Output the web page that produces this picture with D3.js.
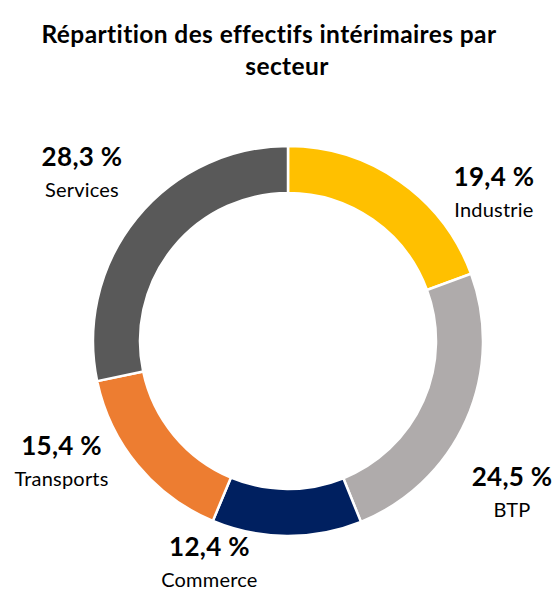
<!DOCTYPE html>
<html>
<head>
<meta charset="utf-8">
<script src="https://cdn.jsdelivr.net/npm/d3@7"></script>
<style>
    body { margin: 0; background: #fff; }
    text { font-family: Lato, "Open Sans", sans-serif; fill: #000; font-variant-ligatures: none; }
    .title { font-weight: bold; font-size: 24.5px; letter-spacing: 0.4px; }
    .pct { font-weight: bold; font-size: 26px; letter-spacing: 0.3px; }
    .name { font-size: 20px; letter-spacing: 0.2px; }
</style>
</head>
<body>
<div id="chart"></div>
<script>
// data
const sectors = ["Industrie", "BTP", "Commerce", "Transports", "Services"];
const shares = [19.4, 24.5, 12.4, 15.4, 28.3];
const colors = ["#FFC000", "#AFABAB", "#002060", "#ED7D31", "#595959"];

// nudges for the labels, relative to the label ring centroid
const labelNudge = [[60, 62], [-9, 50], [-77, -32], [-30, -41], [-8, -6]];

class Donut {

    constructor(parentElement) {
        this.parentElement = parentElement;
        this.initVis();
    }

    initVis() {
        let vis = this;

        vis.width = 560;
        vis.height = 589;
        vis.center = {x: 288, y: 341};
        vis.outer = 195;
        vis.inner = 148;

        vis.svg = d3.select(vis.parentElement)
            .append("svg")
            .attr("width", vis.width)
            .attr("height", vis.height);

        // title, two lines like the original
        vis.svg.append("text")
            .attr("class", "title")
            .attr("x", 269)
            .attr("y", 43)
            .attr("text-anchor", "middle")
            .text("Répartition des effectifs intérimaires par");
        vis.svg.append("text")
            .attr("class", "title")
            .attr("x", 287)
            .attr("y", 75)
            .attr("text-anchor", "middle")
            .text("secteur");

        vis.g = vis.svg.append("g")
            .attr("transform", "translate(" + vis.center.x + "," + vis.center.y + ")");

        vis.updateVis();
    }

    updateVis() {
        let vis = this;

        vis.data = sectors.map((s, i) => ({name: s, value: shares[i], color: colors[i], i: i}));

        vis.pie = d3.pie()
            .value(d => d.value)
            .sort(null);

        vis.arc = d3.arc()
            .innerRadius(vis.inner)
            .outerRadius(vis.outer);

        vis.labelArc = d3.arc()
            .innerRadius(255)
            .outerRadius(255);

        let arcs = vis.pie(vis.data);

        vis.g.selectAll("path.slice")
            .data(arcs)
            .enter()
            .append("path")
            .attr("class", "slice")
            .attr("d", vis.arc)
            .attr("fill", d => d.data.color)
            .attr("stroke", "#fff")
            .attr("stroke-width", 2.5);

        let labels = vis.g.selectAll("g.label")
            .data(arcs)
            .enter()
            .append("g")
            .attr("class", "label")
            .attr("transform", d => {
                let c = vis.labelArc.centroid(d);
                let n = labelNudge[d.data.i];
                return "translate(" + (c[0] + n[0]) + "," + (c[1] + n[1]) + ")";
            });

        labels.append("text")
            .attr("class", "pct")
            .attr("text-anchor", "middle")
            .attr("y", -8)
            .text(d => d3.format(".1f")(d.data.value).replace(".", ",") + " %");

        labels.append("text")
            .attr("class", "name")
            .attr("text-anchor", "middle")
            .attr("y", 23)
            .text(d => d.data.name);
    }
}

new Donut("#chart");
</script>
</body>
</html>
